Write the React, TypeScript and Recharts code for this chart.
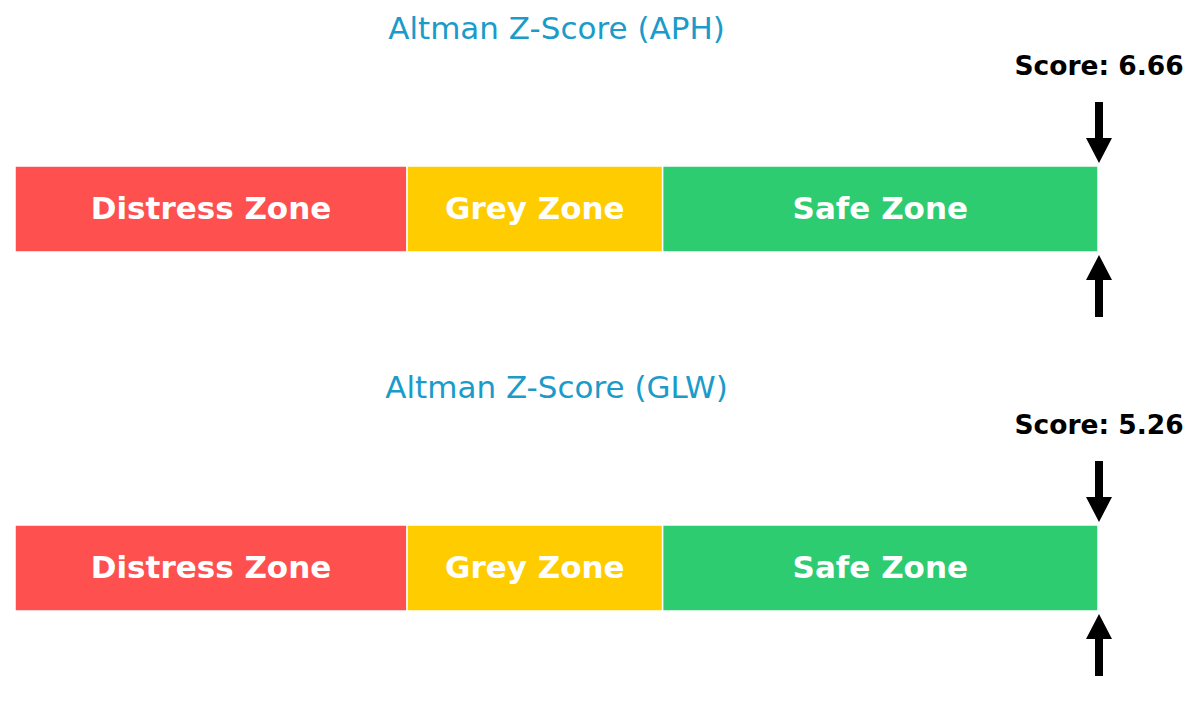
import * as React from 'react';
import {
  ComposedChart, Bar, XAxis, YAxis, ReferenceLine, LabelList, Customized
} from 'recharts';

const tickers = ['APH', 'GLW'];
const scores = [6.66, 5.26];
const zoneNames = ['Distress Zone', 'Grey Zone', 'Safe Zone'];
const zoneKeys = ['distress', 'grey', 'safe'];
const zoneColors = ['#ff5050', '#ffcc00', '#2ecc71'];
const zoneBounds = [0, 1.81, 2.99, 5];

const PANEL_W = 1200;
const PANEL_H = 359;
const MARGIN = { top: 166, right: 102, bottom: 107, left: 15 };
const FONT = '"DejaVu Sans", Verdana, sans-serif';

const ZoneLabel = (name: string) => (props: any) => {
  const { x, y, width, height } = props;
  return (
    <text
      x={x + width / 2}
      y={y + height / 2 + 10}
      textAnchor="middle"
      fill="#ffffff"
      fontFamily={FONT}
      fontWeight="bold"
      fontSize={31}
    >
      {name}
    </text>
  );
};

const ScoreMarker = (score: number) => (props: any) => {
  const vb = props.viewBox || {};
  const cx = vb.x + 1;
  const top = vb.y;
  const bottom = vb.y + vb.height;
  const downTip = top - 3;
  const upTip = bottom + 3;
  const shaft = 4;
  const head = 13;
  const headH = 25;
  return (
    <g>
      <text
        x={cx}
        y={top - 91}
        textAnchor="middle"
        fill="#000"
        fontFamily={FONT}
        fontWeight="bold"
        fontSize={26.5}
      >
        {`Score: ${score.toFixed(2)}`}
      </text>
      <polygon
        fill="#000"
        points={`${cx - shaft},${downTip - 61} ${cx + shaft},${downTip - 61} ${cx + shaft},${downTip - headH} ${cx + head},${downTip - headH} ${cx},${downTip} ${cx - head},${downTip - headH} ${cx - shaft},${downTip - headH}`}
      />
      <polygon
        fill="#000"
        points={`${cx - shaft},${upTip + 62} ${cx + shaft},${upTip + 62} ${cx + shaft},${upTip + headH} ${cx + head},${upTip + headH} ${cx},${upTip} ${cx - head},${upTip + headH} ${cx - shaft},${upTip + headH}`}
      />
    </g>
  );
};

const ZPanel: React.FC<{ ticker: string; score: number }> = ({ ticker, score }) => {
  const row: any = { name: ticker };
  zoneKeys.forEach((k, i) => {
    row[k] = zoneBounds[i + 1] - zoneBounds[i];
  });
  const maxX = zoneBounds[zoneBounds.length - 1];
  const marker = Math.min(score, maxX);
  const plotCenter = MARGIN.left + (PANEL_W - MARGIN.left - MARGIN.right) / 2;

  return (
    <ComposedChart
      width={PANEL_W}
      height={PANEL_H}
      data={[row]}
      layout="vertical"
      margin={MARGIN}
      barCategoryGap={0}
    >
      <XAxis type="number" domain={[0, maxX]} hide allowDataOverflow />
      <YAxis type="category" dataKey="name" hide />
      {zoneKeys.map((k, i) => (
        <Bar
          key={k}
          dataKey={k}
          stackId="z"
          fill={zoneColors[i]}
          stroke="#ffffff"
          strokeWidth={1.5}
          isAnimationActive={false}
        >
          <LabelList dataKey={k} content={ZoneLabel(zoneNames[i])} />
        </Bar>
      ))}
      <ReferenceLine
        x={marker}
        stroke="transparent"
        ifOverflow="extendDomain"
        label={ScoreMarker(score)}
      />
      <Customized
        component={
          <text
            x={plotCenter}
            y={39}
            textAnchor="middle"
            fill="#1a9bc9"
            fontFamily={FONT}
            fontSize={31}
          >
            {`Altman Z-Score (${ticker})`}
          </text>
        }
      />
    </ComposedChart>
  );
};

export default function App() {
  return (
    <div style={{ width: PANEL_W, height: PANEL_H * 2, background: '#fff' }}>
      <style>{'body{margin:0;}'}</style>
      {tickers.map((t, i) => (
        <ZPanel key={t} ticker={t} score={scores[i]} />
      ))}
    </div>
  );
}
